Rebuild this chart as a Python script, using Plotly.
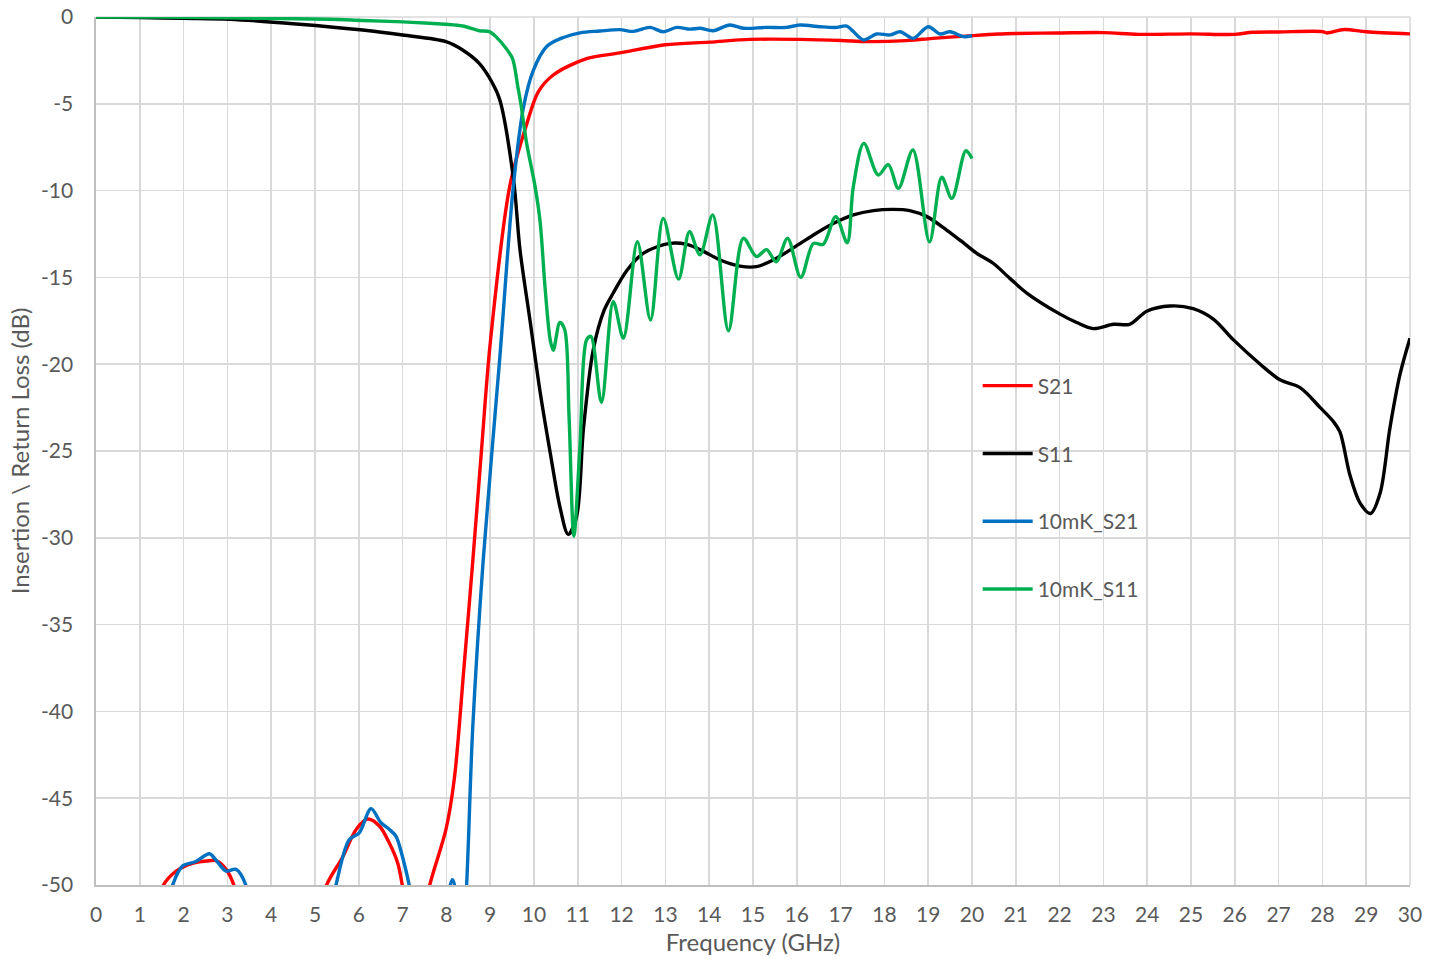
import plotly.graph_objects as go

# ---------------- data ----------------
s21_f = [0, 0.5, 1.0, 1.3, 1.52, 1.83, 2.2, 2.59, 2.74, 2.97, 3.16, 3.4, 3.8, 4.3, 4.8, 5.05, 5.25,
         5.63, 5.94, 6.2, 6.47, 6.7, 6.89, 7.0, 7.15, 7.3, 7.45, 7.61, 7.99, 8.18, 8.4, 8.61, 8.8,
         9.0, 9.45, 9.83, 10.1, 10.44, 11.2, 11.96, 13.0, 14.0, 14.93, 16.07, 17.0, 17.6, 18.5,
         19.1, 19.85, 20.6, 21.0, 22.0, 23.0, 23.8, 25.0, 26.0, 26.4, 27.0, 28.0, 28.1, 28.5, 29.0, 30.0]
s21_db = [-70, -65, -58, -53.5, -50.1, -49.2, -48.75, -48.6, -48.6, -49.1, -50.1, -53, -57, -58, -56, -53, -50.1,
          -48.4, -46.8, -46.2, -46.6, -47.6, -48.75, -50.1, -52, -53, -52.5, -50.1, -46.8, -43.9, -37.5, -31.1, -25,
          -18.8, -9.7, -6.2, -4.3, -3.34, -2.4, -2.07, -1.6, -1.45, -1.29, -1.29, -1.35, -1.42, -1.36,
          -1.23, -1.1, -0.98, -0.95, -0.92, -0.9, -1.0, -0.97, -1.0, -0.88, -0.86, -0.84, -0.92, -0.72, -0.85, -0.97]

s11_f = [0, 1, 2, 3.04, 4.57, 6.09, 7.0, 7.99, 8.37, 8.75, 9.05, 9.22, 9.53, 9.68, 9.91, 10.14, 10.37,
         10.59, 10.78, 10.97, 11.13, 11.35, 11.6, 11.81, 12.12, 12.5, 13.1, 13.49, 13.87, 14.25, 14.7,
         15.08, 15.46, 15.92, 16.38, 16.83, 17.29, 17.75, 18.2, 18.58, 18.97, 19.42, 19.75, 20.1, 20.49,
         20.87, 21.25, 22.0, 22.39, 22.77, 23.23, 23.6, 23.99, 24.52, 25.05, 25.51, 25.97, 26.58, 27.03,
         27.49, 27.95, 28.25, 28.4, 28.63, 28.86, 29.1, 29.32, 29.54, 29.77, 30.0]
s11_db = [0, -0.03, -0.08, -0.13, -0.4, -0.75, -1.04, -1.42, -1.9, -2.67, -3.8, -4.78, -9.3, -13.4, -17.5, -21.6, -25.1,
          -28.2, -29.8, -28.8, -23.7, -19.2, -16.9, -15.9, -14.6, -13.6, -13.04, -13.1, -13.5, -14.0, -14.35,
          -14.38, -14.0, -13.3, -12.56, -11.9, -11.4, -11.15, -11.08, -11.15, -11.5, -12.27, -12.9, -13.6, -14.2,
          -15.07, -15.9, -17.1, -17.6, -17.95, -17.7, -17.7, -16.95, -16.65, -16.8, -17.4, -18.6, -20.0, -20.9,
          -21.35, -22.5, -23.3, -23.9, -26.4, -28.0, -28.6, -27.4, -23.7, -20.6, -18.5]

mk_s21_f = [0, 0.6, 1.2, 1.5, 1.75, 1.98, 2.28, 2.59, 2.75, 2.97, 3.2, 3.42, 3.7, 4.3, 4.9, 5.25, 5.48,
            5.78, 6.01, 6.28, 6.5, 6.7, 6.85, 7.0, 7.15, 7.4, 7.8, 8.0, 8.14, 8.26, 8.34, 8.44, 8.6, 8.84,
            9.22, 9.53, 9.76, 9.98, 10.29, 10.67, 11.05, 11.5, 11.96, 12.27, 12.65, 12.95, 13.26, 13.56,
            13.79, 14.09, 14.47, 14.78, 15.3, 15.76, 16.07, 16.53, 16.91, 17.14, 17.52, 17.82, 18.13,
            18.36, 18.66, 19.0, 19.27, 19.5, 19.8, 20.0]
mk_s21_db = [-72, -66, -58, -53, -50, -48.9, -48.65, -48.2, -48.6, -49.2, -49.1, -50, -54, -58, -56, -53, -50,
             -47.4, -47.0, -45.6, -46.4, -46.8, -47.2, -48.4, -50, -53.5, -53, -51, -49.7, -51.2, -53.5, -51, -41, -31.3,
             -19.6, -9.7, -5.2, -3.1, -1.7, -1.18, -0.91, -0.81, -0.73, -0.83, -0.6, -0.85, -0.6, -0.7,
             -0.65, -0.79, -0.46, -0.65, -0.6, -0.6, -0.46, -0.56, -0.6, -0.52, -1.32, -0.98, -1.03,
             -0.85, -1.23, -0.56, -0.98, -0.85, -1.13, -1.08]

mk_s11_f = [0, 1, 2, 3, 3.8, 5.33, 6.09, 7.0, 7.61, 8.0, 8.37, 8.75, 8.98, 9.13, 9.36, 9.51, 9.63, 9.7,
            9.83, 10.02, 10.14, 10.25, 10.37, 10.44, 10.59, 10.7, 10.8, 10.91, 11.05, 11.2, 11.3, 11.54,
            11.81, 12.04, 12.36, 12.66, 12.95, 13.3, 13.55, 13.79, 14.08, 14.44, 14.78, 15.08, 15.31,
            15.53, 15.79, 16.09, 16.38, 16.6, 16.89, 17.15, 17.29, 17.53, 17.86, 18.09, 18.32, 18.65,
            19.03, 19.31, 19.54, 19.86, 20.0]
mk_s11_db = [0, 0, -0.02, -0.05, -0.08, -0.13, -0.2, -0.28, -0.36, -0.42, -0.52, -0.79, -0.84, -1.13, -1.8, -2.4, -4.0, -5.0,
             -7.25, -9.7, -11.8, -15.5, -18.6, -19.2, -17.6, -18.0, -23.0, -29.9, -24.7, -18.6, -18.4, -22.2,
             -16.4, -18.5, -12.95, -17.45, -11.6, -15.1, -12.37, -13.7, -11.4, -18.07, -12.75, -13.8, -13.4,
             -14.1, -12.75, -15.0, -13.04, -13.1, -11.5, -13.0, -9.78, -7.28, -9.1, -8.5, -9.87, -7.66,
             -12.95, -9.23, -10.45, -7.7, -8.15]

x_ticks = list(range(0, 31))
y_ticks = [0, -5, -10, -15, -20, -25, -30, -35, -40, -45, -50]

series = [
    ("S21", s21_f, s21_db, "#FF0000"),
    ("S11", s11_f, s11_db, "#000000"),
    ("10mK_S21", mk_s21_f, mk_s21_db, "#0070C0"),
    ("10mK_S11", mk_s11_f, mk_s11_db, "#00B050"),
]

FONT = "Lato, 'Open Sans', sans-serif"
GREY = "#595959"
GRID = "#D9D9D9"

fig = go.Figure()
for name, fx, fy, col in series:
    fig.add_trace(go.Scatter(
        x=fx, y=fy, name=name, mode="lines", legendgroup=name,
        line=dict(color=col, width=3.4, shape="spline", smoothing=0.9),
    ))

fig.update_layout(
    width=1440, height=959,
    margin=dict(l=96, r=30, t=17, b=74, autoexpand=False),
    paper_bgcolor="white", plot_bgcolor="white",
    font=dict(family=FONT, color=GREY, size=21),
    legend=dict(
        x=0.671, y=0.5985, xanchor="left", yanchor="top",
        bgcolor="rgba(0,0,0,0)", tracegroupgap=37.5,
        font=dict(size=21, color=GREY), itemwidth=50,
    ),
)
fig.update_xaxes(
    range=[0, 30], tickvals=x_ticks, ticktext=[str(v) for v in x_ticks],
    showgrid=True, gridcolor=GRID, gridwidth=1.6,
    showline=True, linecolor="#BFBFBF", linewidth=1.6,
    zeroline=False, ticks="", ticklabelstandoff=10, automargin=False,
    ticklabeloverflow="allow",
    title=dict(text="Frequency (GHz)", font=dict(size=24, color=GREY), standoff=9),
    tickfont=dict(size=21, color=GREY),
)
fig.update_yaxes(
    range=[-50, 0], tickvals=y_ticks, ticktext=[str(v) for v in y_ticks],
    showgrid=True, gridcolor=GRID, gridwidth=1.6,
    showline=True, linecolor="#BFBFBF", linewidth=1.6,
    zeroline=False, ticks="", ticklabelstandoff=17, automargin=False,
    ticklabeloverflow="allow",
    title=dict(text="Insertion \\ Return Loss (dB)", font=dict(size=24, color=GREY), standoff=4),
    tickfont=dict(size=21, color=GREY),
)
fig.update_layout(shapes=[
    dict(type="line", xref="paper", yref="paper", x0=1, x1=1, y0=0, y1=1,
         line=dict(color=GRID, width=1.6), layer="below"),
    dict(type="line", xref="paper", yref="paper", x0=0, x1=1, y0=1, y1=1,
         line=dict(color=GRID, width=1.6), layer="below"),
])

# remove the browser's default 8px body margin so the figure fills the window exactly
fig.write_html(
    "out.html",
    config={"displayModeBar": False, "staticPlot": True},
    post_script="document.body.style.margin='0';document.body.style.overflow='hidden';",
)
